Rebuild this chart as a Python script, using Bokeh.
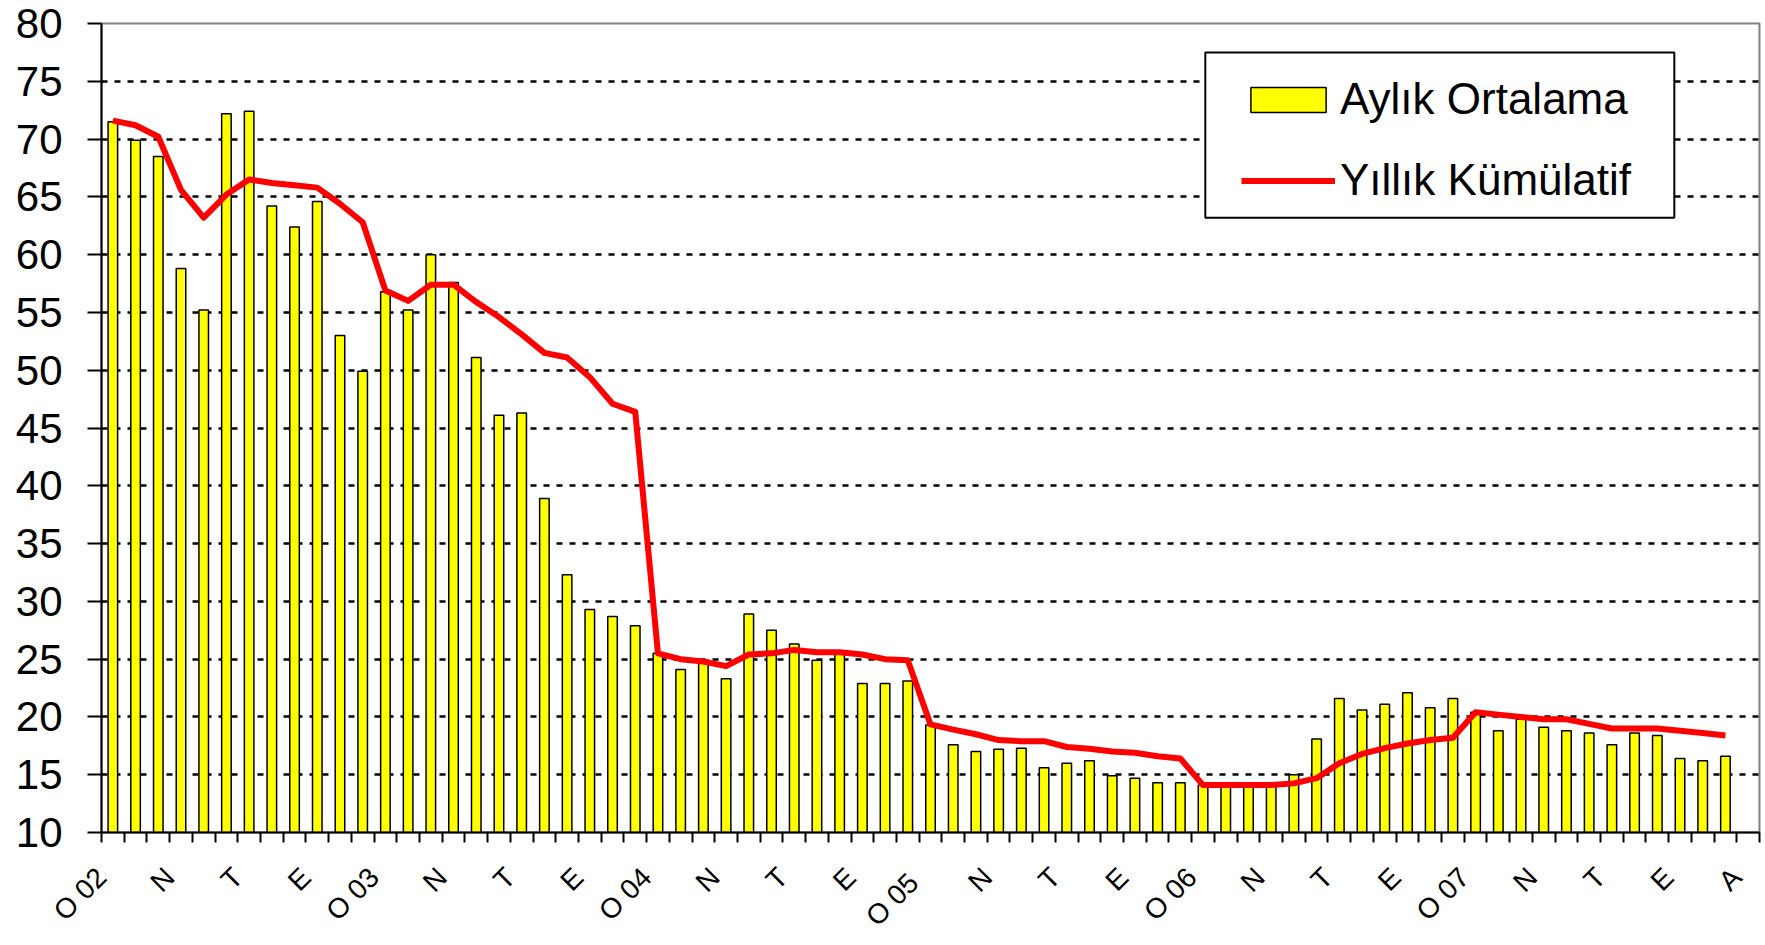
from bokeh.plotting import figure
from bokeh.models import Range1d, FixedTicker, Legend, LegendItem, BoxAnnotation
from bokeh.embed import file_html
from bokeh.resources import INLINE
import math

FONT = "Liberation Sans"

# Aylık Ortalama (monthly average), Ocak 2002 .. Aralık 2007
aylik = [71.5, 69.9, 68.5, 58.8, 55.2, 72.2, 72.4, 64.2, 62.4, 64.6, 53.0, 49.9,
         56.8, 55.2, 60.0, 57.6, 51.1, 46.1, 46.3, 38.9, 32.3, 29.3, 28.7, 27.9,
         25.5, 24.1, 24.9, 23.3, 28.9, 27.5, 26.3, 24.9, 25.5, 22.9, 22.9, 23.1,
         19.3, 17.6, 17.0, 17.2, 17.3, 15.6, 16.0, 16.2, 14.9, 14.7, 14.3, 14.3,
         14.1, 14.0, 14.0, 14.0, 15.0, 18.1, 21.6, 20.6, 21.1, 22.1, 20.8, 21.6,
         20.4, 18.8, 19.8, 19.1, 18.8, 18.6, 17.6, 18.6, 18.4, 16.4, 16.2, 16.6]

# Yıllık Kümülatif (cumulative yearly average)
yillik = [71.6, 71.2, 70.2, 65.6, 63.2, 65.2, 66.5, 66.2, 66.0, 65.8, 64.4, 62.8,
          56.9, 56.0, 57.4, 57.4, 55.9, 54.6, 53.1, 51.5, 51.1, 49.4, 47.1, 46.4,
          25.5, 25.0, 24.8, 24.4, 25.4, 25.5, 25.8, 25.6, 25.6, 25.4, 25.0, 24.9,
          19.35, 18.9, 18.5, 18.0, 17.9, 17.9, 17.4, 17.25, 17.0, 16.9, 16.6, 16.4,
          14.1, 14.1, 14.1, 14.1, 14.25, 14.7, 16.0, 16.8, 17.3, 17.7, 18.0, 18.2,
          20.4, 20.2, 20.0, 19.8, 19.8, 19.4, 19.0, 19.0, 19.0, 18.8, 18.6, 18.4]

# one label every third category (the last category slot is empty)
tick_labels = ["O 02", "N", "T", "E", "O 03", "N", "T", "E", "O 04", "N", "T", "E",
               "O  05", "N", "T", "E", "O 06", "N", "T", "E", "O 07", "N", "T", "E", "A"]

n_cat = len(aylik) + 1
OFFSET = 0.5  # Excel puts the rotated labels slightly left of the category centre
xpos = [i + OFFSET for i in range(len(aylik))]

p = figure(width=1764, height=945, output_backend="svg", toolbar_location=None,
           title=None,
           x_range=Range1d(-0.5 + OFFSET, n_cat - 0.5 + OFFSET), y_range=Range1d(10, 80),
           min_border_left=101, min_border_right=5, min_border_top=23, min_border_bottom=111)

p.background_fill_color = "white"
p.border_fill_color = "white"
p.outline_line_color = "#808080"
p.outline_line_width = 2

# y axis
p.yaxis.ticker = FixedTicker(ticks=list(range(10, 81, 5)))
p.yaxis.major_label_text_font = FONT
p.yaxis.major_label_text_font_size = "42px"
p.yaxis.major_label_text_color = "black"
p.yaxis.major_tick_out = 14
p.yaxis.major_tick_in = 0
p.yaxis.major_tick_line_width = 2
p.yaxis.major_tick_line_color = "black"
p.yaxis.minor_tick_line_color = None
p.yaxis.axis_line_width = 2
p.yaxis.axis_line_color = "black"
p.yaxis.major_label_standoff = 25

# x axis
p.xaxis.ticker = FixedTicker(ticks=[3 * k for k in range(len(tick_labels))],
                             minor_ticks=[i - 0.5 + OFFSET for i in range(n_cat + 1)])
p.xaxis.major_label_overrides = {3 * k: lab for k, lab in enumerate(tick_labels)}
p.xaxis.major_label_orientation = math.pi / 4
p.xaxis.major_label_text_font = FONT
p.xaxis.major_label_text_font_size = "28px"
p.xaxis.major_label_text_color = "black"
p.xaxis.major_tick_out = 0
p.xaxis.major_tick_in = 0
p.xaxis.major_tick_line_color = None
p.xaxis.minor_tick_out = 10
p.xaxis.minor_tick_in = 0
p.xaxis.minor_tick_line_width = 2
p.xaxis.minor_tick_line_color = "black"
p.xaxis.axis_line_width = 2
p.xaxis.axis_line_color = "black"
p.xaxis.major_label_standoff = 30

# grid
p.xgrid.visible = False
p.ygrid.ticker = FixedTicker(ticks=list(range(15, 80, 5)))
p.ygrid.grid_line_color = "black"
p.ygrid.grid_line_width = 2.5
p.ygrid.grid_line_dash = "6 7"

bars = p.vbar(x=xpos, top=aylik, bottom=10, width=0.42,
              fill_color="#FFFF00", line_color="black", line_width=1.5)
line = p.line(xpos, yillik, line_color="#FF0000", line_width=6, line_join="round")

# legend frame (white box with black border), in data units of the plot
frame = BoxAnnotation(left=48.1 + OFFSET, right=68.75 + OFFSET, top=77.5, bottom=63.19,
                      fill_color="white", fill_alpha=1.0,
                      line_color="black", line_width=2, line_alpha=1.0)
p.add_layout(frame)

legend = Legend(items=[LegendItem(label="Aylık Ortalama", renderers=[bars]),
                       LegendItem(label="Yıllık Kümülatif", renderers=[line])],
                location=(1130, 617), glyph_width=94, glyph_height=31,
                label_text_font=FONT, label_text_font_size="44px",
                label_text_color="black", label_standoff=5,
                spacing=31, padding=10, margin=0,
                border_line_alpha=0, background_fill_alpha=0)
p.add_layout(legend)

open("out.html", "w").write(file_html(p, INLINE))
